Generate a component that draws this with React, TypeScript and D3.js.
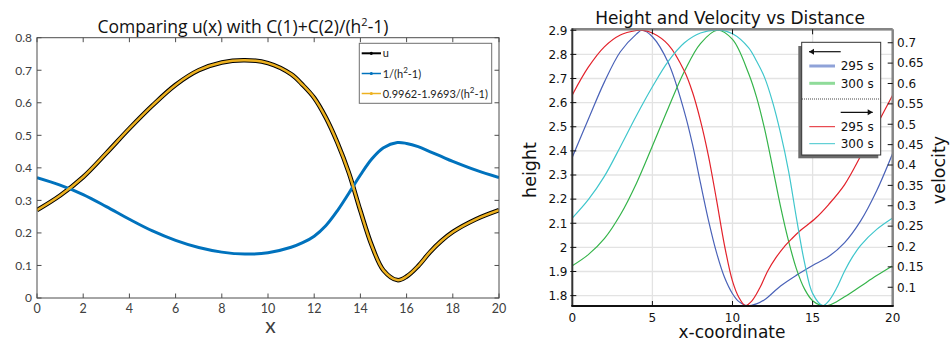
import React, { useEffect, useRef } from "react";
import * as d3 from "d3";

// left chart: u(x) and the fit
const leftX = [0, 1, 2, 3, 4, 5, 6, 7, 8, 9, 10, 11, 11.5, 12, 12.5, 13, 13.5, 14, 14.5, 15, 15.6, 16, 16.5, 17, 17.5, 18, 19, 20];
const uValues = [0.27, 0.315, 0.372, 0.445, 0.521, 0.592, 0.655, 0.7, 0.724, 0.731, 0.722, 0.688, 0.655, 0.615, 0.555, 0.478, 0.385, 0.268, 0.16, 0.085, 0.055, 0.066, 0.098, 0.14, 0.175, 0.203, 0.242, 0.27];
const invValues = [0.37, 0.347, 0.318, 0.281, 0.242, 0.206, 0.177, 0.155, 0.141, 0.135, 0.139, 0.156, 0.17, 0.19, 0.222, 0.268, 0.322, 0.378, 0.428, 0.462, 0.478, 0.475, 0.465, 0.45, 0.435, 0.42, 0.393, 0.37];
const fitValues = [0.27, 0.315, 0.372, 0.445, 0.521, 0.592, 0.655, 0.7, 0.724, 0.731, 0.722, 0.688, 0.655, 0.615, 0.555, 0.478, 0.385, 0.268, 0.16, 0.085, 0.055, 0.066, 0.098, 0.14, 0.175, 0.203, 0.242, 0.27];
const leftXTicks = [0, 2, 4, 6, 8, 10, 12, 14, 16, 18, 20];
const leftYTicks = [0, 0.1, 0.2, 0.3, 0.4, 0.5, 0.6, 0.7, 0.8];

// right chart: height (left axis) and velocity (right axis)
const height295X = [0, 1, 2, 3, 4, 4.35, 5, 6, 7, 7.5, 8, 8.5, 9, 9.5, 10, 10.4, 10.9, 11.5, 12, 13, 14, 15, 16, 17, 18, 19, 20];
const height295 = [2.374, 2.531, 2.685, 2.811, 2.884, 2.9, 2.873, 2.764, 2.561, 2.428, 2.267, 2.112, 1.979, 1.876, 1.808, 1.775, 1.758, 1.766, 1.783, 1.84, 1.885, 1.925, 1.962, 2.02, 2.11, 2.235, 2.39];
const height300X = [0, 1, 2, 3, 4, 5, 6, 7, 8, 9.05, 10, 11, 11.5, 12, 12.5, 13, 13.5, 14, 14.5, 15, 15.6, 16, 16.5, 17, 18, 19, 20];
const height300 = [1.924, 1.97, 2.036, 2.135, 2.265, 2.42, 2.579, 2.73, 2.845, 2.9, 2.862, 2.722, 2.623, 2.492, 2.333, 2.169, 2.026, 1.909, 1.827, 1.779, 1.758, 1.76, 1.775, 1.795, 1.839, 1.883, 1.924];
const velocity295X = [0, 1, 2, 3, 4, 4.3, 5, 6, 7, 7.5, 8, 8.5, 9, 9.5, 10, 10.4, 10.8, 11.2, 11.7, 12.2, 12.7, 13.2, 13.7, 14.2, 15.2, 16, 17, 18, 19, 20];
const velocity295 = [0.572, 0.64, 0.69, 0.719, 0.73, 0.731, 0.724, 0.695, 0.63, 0.579, 0.509, 0.422, 0.315, 0.203, 0.115, 0.075, 0.055, 0.066, 0.098, 0.14, 0.172, 0.198, 0.219, 0.238, 0.27, 0.303, 0.352, 0.422, 0.497, 0.572];
const velocity300X = [0, 1, 2, 3, 4, 5, 6, 7, 8, 9.1, 10, 11, 11.5, 12, 12.5, 13, 13.5, 14, 14.5, 15, 15.65, 16, 16.5, 17, 17.5, 18, 19, 20];
const velocity300 = [0.27, 0.315, 0.372, 0.445, 0.521, 0.592, 0.655, 0.7, 0.724, 0.731, 0.722, 0.688, 0.655, 0.615, 0.555, 0.478, 0.385, 0.268, 0.16, 0.085, 0.055, 0.066, 0.098, 0.14, 0.175, 0.203, 0.242, 0.27];
const rightXTicks = [0, 5, 10, 15, 20];
const heightTicks = [1.8, 1.9, 2, 2.1, 2.2, 2.3, 2.4, 2.5, 2.6, 2.7, 2.8, 2.9];
const velocityTicks = [0.1, 0.15, 0.2, 0.25, 0.3, 0.35, 0.4, 0.45, 0.5, 0.55, 0.6, 0.65, 0.7];
const legendTimes = ["295 s", "300 s"];

const zip = (xs: number[], ys: number[]) => xs.map((x, i) => [x, ys[i]] as [number, number]);

export default function App() {
  const svgRef = useRef<SVGSVGElement>(null);

  useEffect(() => {
    createChart();
  }, []);

  const createChart = () => {
    const width = 952;
    const height = 342;
    d3.select(svgRef.current).selectAll("*").remove();
    const svg = d3
      .select(svgRef.current)
      .attr("width", width)
      .attr("height", height)
      .attr("viewBox", [0, 0, width, height]);

    svg.append("rect").attr("width", width).attr("height", height).attr("fill", "white");

    // ---------- left chart ----------
    const lf = "Lato, 'Open Sans', sans-serif";
    const axisGray = "#4d4d4d";
    const x = d3.scaleLinear().domain([0, 20]).range([37, 499]);
    const y = d3.scaleLinear().domain([0, 0.8]).range([298, 37.7]);
    const left = svg.append("g");

    left.append("defs").append("clipPath").attr("id", "clipL")
      .append("rect").attr("x", 37).attr("y", 37.7).attr("width", 462).attr("height", 260.3);

    const lineL = d3.line<[number, number]>().x((d) => x(d[0])).y((d) => y(d[1])).curve(d3.curveCatmullRom);
    const plotL = left.append("g").attr("clip-path", "url(#clipL)");
    plotL.append("path").attr("d", lineL(zip(leftX, uValues))).attr("fill", "none").attr("stroke", "#000").attr("stroke-width", 4.5);
    plotL.append("path").attr("d", lineL(zip(leftX, invValues))).attr("fill", "none").attr("stroke", "#0072BD").attr("stroke-width", 3);
    plotL.append("path").attr("d", lineL(zip(leftX, fitValues))).attr("fill", "none").attr("stroke", "#EDB120").attr("stroke-width", 2.5);

    // box and ticks
    left.append("rect").attr("x", 37).attr("y", 37.7).attr("width", 462).attr("height", 260.3)
      .attr("fill", "none").attr("stroke", axisGray).attr("stroke-width", 1);
    const tl = 4.5;
    left.append("g").selectAll("line").data(leftXTicks).join("line")
      .attr("x1", (d) => x(d)).attr("x2", (d) => x(d)).attr("y1", 298).attr("y2", 298 - tl)
      .attr("stroke", axisGray);
    left.append("g").selectAll("line").data(leftXTicks).join("line")
      .attr("x1", (d) => x(d)).attr("x2", (d) => x(d)).attr("y1", 37.7).attr("y2", 37.7 + tl)
      .attr("stroke", axisGray);
    left.append("g").selectAll("line").data(leftYTicks).join("line")
      .attr("x1", 37).attr("x2", 37 + tl).attr("y1", (d) => y(d)).attr("y2", (d) => y(d))
      .attr("stroke", axisGray);
    left.append("g").selectAll("line").data(leftYTicks).join("line")
      .attr("x1", 499).attr("x2", 499 - tl).attr("y1", (d) => y(d)).attr("y2", (d) => y(d))
      .attr("stroke", axisGray);

    left.append("g").selectAll("text").data(leftXTicks).join("text")
      .attr("x", (d) => x(d)).attr("y", 312.5).attr("text-anchor", "middle")
      .attr("font-family", lf).attr("font-size", 12.5).attr("fill", "#404040").text((d) => String(d));
    left.append("g").selectAll("text").data(leftYTicks).join("text")
      .attr("x", 32).attr("y", (d) => y(d)).attr("dy", "0.36em").attr("text-anchor", "end")
      .attr("font-family", lf).attr("font-size", 12).attr("fill", "#404040").text((d) => String(d));

    left.append("text").attr("x", 270.5).attr("y", 333).attr("text-anchor", "middle")
      .attr("font-family", lf).attr("font-size", 21).attr("fill", "#404040").text("x");

    const title = left.append("text").attr("x", 243).attr("y", 33.3).attr("text-anchor", "middle")
      .attr("font-family", "'Open Sans', sans-serif").attr("font-size", 17.5).attr("fill", "#111");
    title.append("tspan").text("Comparing u(x) with C(1)+C(2)/(h");
    title.append("tspan").attr("dy", -7).attr("font-size", 11).text("2");
    title.append("tspan").attr("dy", 7).text("-1)");

    // legend
    const lg = left.append("g");
    lg.append("rect").attr("x", 359.3).attr("y", 43.3).attr("width", 132.4).attr("height", 60)
      .attr("fill", "white").attr("stroke", "#6e6e6e").attr("stroke-width", 1);
    const legendRows = [
      { color: "#000", w: 2, y: 53.3, parts: ["u"] },
      { color: "#0072BD", w: 1.5, y: 73.5, parts: ["1/(h", "2", "-1)"] },
      { color: "#EDB120", w: 1.5, y: 93.5, parts: ["0.9962-1.9693/(h", "2", "-1)"] },
    ];
    legendRows.forEach((r) => {
      lg.append("line").attr("x1", 361.7).attr("x2", 381).attr("y1", r.y).attr("y2", r.y)
        .attr("stroke", r.color).attr("stroke-width", r.w);
      lg.append("circle").attr("cx", 371.3).attr("cy", r.y).attr("r", 1.6).attr("fill", r.color);
      const t = lg.append("text").attr("x", 382.7).attr("y", r.y + 4).attr("font-family", lf)
        .attr("font-size", 11).attr("fill", "#222");
      t.append("tspan").text(r.parts[0]);
      if (r.parts.length > 1) {
        t.append("tspan").attr("dy", -5).attr("font-size", 8).text(r.parts[1]);
        t.append("tspan").attr("dy", 5).text(r.parts[2]);
      }
    });

    // ---------- right chart ----------
    const rf = "'DejaVu Sans', sans-serif";
    const x0 = 572.3, x1 = 892.7, yTop = 29.3, yBot = 306;
    const xr = d3.scaleLinear().domain([0, 20]).range([x0, x1]);
    const hr = d3.scaleLinear().domain([1.757, 2.904]).range([yBot, yTop]);
    const vr = d3.scaleLinear().domain([0.054, 0.733]).range([yBot, yTop]);
    const right = svg.append("g");

    right.append("defs").append("clipPath").attr("id", "clipR")
      .append("rect").attr("x", x0).attr("y", yTop).attr("width", x1 - x0).attr("height", yBot - yTop);

    // grid
    right.append("g").selectAll("line").data(heightTicks).join("line")
      .attr("x1", x0).attr("x2", x1).attr("y1", (d) => hr(d)).attr("y2", (d) => hr(d))
      .attr("stroke", "#e3e3e3").attr("stroke-width", 1.3);
    right.append("g").selectAll("line").data(rightXTicks.slice(1, -1)).join("line")
      .attr("x1", (d) => xr(d)).attr("x2", (d) => xr(d)).attr("y1", yTop).attr("y2", yBot)
      .attr("stroke", "#e3e3e3").attr("stroke-width", 1.3);

    const lineH = d3.line<[number, number]>().x((d) => xr(d[0])).y((d) => hr(d[1])).curve(d3.curveCatmullRom);
    const lineV = d3.line<[number, number]>().x((d) => xr(d[0])).y((d) => vr(d[1])).curve(d3.curveCatmullRom);
    const plotR = right.append("g").attr("clip-path", "url(#clipR)").attr("fill", "none").attr("stroke-width", 1.2);
    plotR.append("path").attr("d", lineH(zip(height295X, height295))).attr("stroke", "#4a62b8");
    plotR.append("path").attr("d", lineH(zip(height300X, height300))).attr("stroke", "#35b44a");
    plotR.append("path").attr("d", lineV(zip(velocity295X, velocity295))).attr("stroke", "#e3222b");
    plotR.append("path").attr("d", lineV(zip(velocity300X, velocity300))).attr("stroke", "#3fc6cc");

    // frame
    right.append("line").attr("x1", x0).attr("x2", x1).attr("y1", yTop).attr("y2", yTop).attr("stroke", "#858585").attr("stroke-width", 2.5);
    right.append("line").attr("x1", x1).attr("x2", x1).attr("y1", yTop).attr("y2", yBot).attr("stroke", "#858585").attr("stroke-width", 2.5);
    right.append("line").attr("x1", x0).attr("x2", x0).attr("y1", yTop - 1).attr("y2", yBot).attr("stroke", "#333").attr("stroke-width", 2);
    right.append("line").attr("x1", x0 - 1).attr("x2", x1 + 1).attr("y1", yBot).attr("y2", yBot).attr("stroke", "#111").attr("stroke-width", 2);

    // ticks
    right.append("g").selectAll("line").data(heightTicks).join("line")
      .attr("x1", x0 - 2).attr("x2", x0 + 4).attr("y1", (d) => hr(d)).attr("y2", (d) => hr(d))
      .attr("stroke", "#111").attr("stroke-width", 1);
    right.append("g").selectAll("line").data(velocityTicks).join("line")
      .attr("x1", x1 - 5).attr("x2", x1).attr("y1", (d) => vr(d)).attr("y2", (d) => vr(d))
      .attr("stroke", "#111").attr("stroke-width", 1);
    right.append("g").selectAll("line").data(rightXTicks.slice(1, -1)).join("line")
      .attr("x1", (d) => xr(d)).attr("x2", (d) => xr(d)).attr("y1", yBot).attr("y2", yBot - 5)
      .attr("stroke", "#111").attr("stroke-width", 1);
    right.append("g").selectAll("line").data(rightXTicks.slice(1, -1)).join("line")
      .attr("x1", (d) => xr(d)).attr("x2", (d) => xr(d)).attr("y1", yTop).attr("y2", yTop + 5)
      .attr("stroke", "#111").attr("stroke-width", 1);

    right.append("g").selectAll("text").data(heightTicks).join("text")
      .attr("x", 567.5).attr("y", (d) => hr(d)).attr("dy", "0.36em").attr("text-anchor", "end")
      .attr("font-family", rf).attr("font-size", 12).attr("fill", "#111").text((d) => String(d));
    right.append("g").selectAll("text").data(velocityTicks).join("text")
      .attr("x", 897).attr("y", (d) => vr(d)).attr("dy", "0.36em").attr("text-anchor", "start")
      .attr("font-family", rf).attr("font-size", 12).attr("fill", "#111").text((d) => String(d));
    right.append("g").selectAll("text").data(rightXTicks).join("text")
      .attr("x", (d) => xr(d)).attr("y", 322).attr("text-anchor", "middle")
      .attr("font-family", rf).attr("font-size", 12).attr("fill", "#111").text((d) => String(d));

    right.append("text").attr("x", 732).attr("y", 338).attr("text-anchor", "middle")
      .attr("font-family", rf).attr("font-size", 17).attr("fill", "#111").text("x-coordinate");
    right.append("text").attr("x", 730).attr("y", 23.5).attr("text-anchor", "middle")
      .attr("font-family", rf).attr("font-size", 17).attr("fill", "#111").text("Height and Velocity vs Distance");
    right.append("text").attr("transform", "translate(536,170) rotate(-90)").attr("text-anchor", "middle")
      .attr("font-family", rf).attr("font-size", 17.5).attr("fill", "#111").text("height");
    right.append("text").attr("transform", "translate(945,170) rotate(-90)").attr("text-anchor", "middle")
      .attr("font-family", rf).attr("font-size", 17.5).attr("fill", "#111").text("velocity");

    // legend
    const rl = right.append("g");
    rl.append("rect").attr("x", 798.3).attr("y", 46).attr("width", 80).attr("height", 112.3).attr("fill", "#6b6b6b");
    rl.append("rect").attr("x", 801.7).attr("y", 42.3).attr("width", 79).attr("height", 112.7)
      .attr("fill", "white").attr("stroke", "#333").attr("stroke-width", 1);
    const arrow = (xa: number, xb: number, ya: number, dir: number) => {
      rl.append("line").attr("x1", xa).attr("x2", xb).attr("y1", ya).attr("y2", ya).attr("stroke", "#111").attr("stroke-width", 1.2);
      const tip = dir < 0 ? xa : xb;
      rl.append("path")
        .attr("d", `M${tip},${ya} L${tip - dir * 5},${ya - 3} L${tip - dir * 5},${ya + 3} Z`)
        .attr("fill", "#111");
    };
    arrow(809, 840.7, 51.7, -1);
    arrow(840.7, 872.7, 112.3, 1);
    rl.append("line").attr("x1", 802).attr("x2", 880.5).attr("y1", 99).attr("y2", 99)
      .attr("stroke", "#444").attr("stroke-dasharray", "1,1");
    const rows = [
      { color: "#8fa2d8", w: 3, y: 66, label: legendTimes[0] },
      { color: "#8fdb99", w: 3, y: 83.3, label: legendTimes[1] },
      { color: "#e3222b", w: 1, y: 126.7, label: legendTimes[0] },
      { color: "#3fc6cc", w: 1, y: 143.7, label: legendTimes[1] },
    ];
    rows.forEach((r) => {
      rl.append("line").attr("x1", 809.3).attr("x2", 835).attr("y1", r.y).attr("y2", r.y)
        .attr("stroke", r.color).attr("stroke-width", r.w);
      rl.append("text").attr("x", 840.7).attr("y", r.y).attr("dy", "0.36em")
        .attr("font-family", rf).attr("font-size", 12).attr("fill", "#111").text(r.label);
    });
  };

  return <svg ref={svgRef} style={{ position: "absolute", left: 0, top: 0 }}></svg>;
}
